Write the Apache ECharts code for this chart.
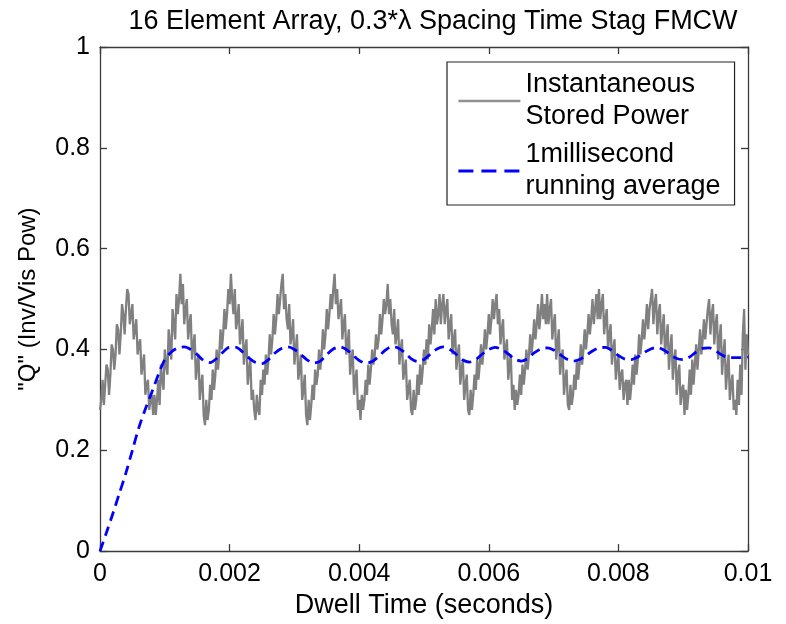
<!DOCTYPE html>
<html>
<head>
<meta charset="utf-8">
<script src="https://cdn.jsdelivr.net/npm/echarts@6/dist/echarts.min.js"></script>
<style>html,body{margin:0;padding:0;background:#fff}#c{width:786px;height:624px}</style>
</head>
<body>
<div id="c"></div>
<script>
const titleText = '16 Element Array, 0.3*\u03bb Spacing Time Stag FMCW';
const xName = 'Dwell Time (seconds)';
const yName = '"Q" (Inv/Vis Pow)';
const seriesNames = ['Instantaneous\nStored Power', '1millisecond\nrunning average'];
const xTicks = [0, 0.002, 0.004, 0.006, 0.008, 0.01];
const yTicks = [0, 0.2, 0.4, 0.6, 0.8, 1];

// Instantaneous stored power, sampled every 0.00002 s (501 samples)
const grayStep = 0.00002;
const grayValues = [
  // start -> first trough
  .28,.30,.34,.29,.33,.37,.36,.31,.35,.41,.40,.36,.39,.45,.44,.39,.43,.49,.47,.43,.48,.52,
  .51,.45,.47,.49,.42,.44,.46,.39,.41,.42,.35,.37,.39,.31,.33,.34,.28,.30,.31,.27,
  // cycle 2
  .31,.27,.30,.34,.29,.37,.34,.32,.40,.37,.35,.44,.41,.38,.48,.45,.42,.51,.47,.50,.55,
  .49,.53,.45,.48,.50,.42,.45,.47,.38,.41,.43,.34,.37,.39,.30,.33,.35,.27,.25,
  // cycle 3
  .30,.26,.28,.33,.30,.36,.32,.35,.40,.36,.39,.44,.40,.43,.48,.44,.47,.52,.49,.55,
  .50,.47,.52,.44,.46,.49,.41,.43,.46,.37,.40,.42,.33,.36,.38,.30,.32,.28,.26,
  // cycle 4
  .31,.28,.27,.34,.31,.36,.33,.39,.35,.38,.43,.39,.42,.47,.43,.46,.51,.47,.50,.53,.55,
  .48,.51,.46,.44,.49,.41,.43,.46,.37,.40,.43,.34,.36,.39,.30,.32,.35,.27,.25,
  // cycle 5
  .30,.26,.29,.33,.30,.36,.33,.35,.40,.36,.39,.44,.40,.43,.48,.44,.47,.51,.48,.52,.55,
  .49,.52,.46,.48,.50,.42,.45,.47,.39,.41,.44,.35,.38,.40,.31,.34,.36,.28,.30,.26,
  // cycle 6
  .31,.28,.30,.34,.31,.37,.33,.36,.40,.37,.39,.43,.40,.42,.47,.43,.46,.50,.47,.49,.53,
  .47,.50,.45,.43,.48,.41,.43,.46,.37,.40,.42,.34,.36,.38,.30,.32,.34,.28,.27,
  // cycle 7
  .32,.28,.30,.35,.31,.37,.33,.36,.40,.37,.42,.38,.45,.41,.44,.48,.43,.50,.45,.47,.51,.45,.49,.51,
  .45,.48,.50,.42,.45,.47,.39,.42,.44,.36,.39,.41,.33,.36,.38,.30,.33,.35,.28,.27,
  // cycle 8
  .32,.28,.31,.35,.32,.38,.34,.37,.41,.37,.40,.44,.40,.43,.47,.43,.46,.50,.46,.49,.51,
  .45,.48,.41,.44,.46,.38,.40,.42,.34,.37,.39,.30,.33,.28,
  // cycle 9
  .32,.29,.31,.35,.31,.37,.33,.36,.40,.36,.39,.43,.39,.42,.46,.42,.45,.49,.44,.47,.51,.46,.49,.45,.51,
  .45,.48,.50,.42,.45,.47,.38,.41,.44,.35,.38,.40,.31,.34,.36,.29,.28,
  // cycle 10
  .33,.29,.31,.35,.32,.38,.34,.37,.41,.37,.40,.44,.40,.43,.47,.43,.46,.50,.45,.48,.51,.46,.52,
  .46,.49,.51,.43,.46,.48,.40,.43,.45,.37,.40,.42,.34,.37,.39,.32,.35,.36,.30,.33,.34,.29,
  // cycle 11
  .34,.30,.33,.37,.33,.39,.35,.38,.43,.39,.42,.46,.42,.45,.49,.44,.48,.50,.52,
  .45,.49,.51,.43,.47,.49,.41,.44,.47,.39,.42,.45,.36,.40,.43,.34,.38,.40,.31,.35,.37,.29,.32,.33,.27,
  // cycle 12
  .32,.28,.31,.36,.31,.38,.33,.37,.41,.36,.40,.44,.39,.42,.46,.42,.45,.48,.50,
  .43,.47,.49,.41,.45,.47,.38,.42,.45,.35,.39,.42,.32,.36,.39,.30,.33,.35,.28,.30,.27,
  // end
  .34,.29,.37,.31,.43,.48,.36,.43,.39
];

// 1 ms running average, sampled every 0.0001 s (101 samples)
const blueStep = 0.0001;
const blueValues = [
  0,0.037,0.075,0.115,0.155,0.200,0.245,0.282,0.315,0.350,0.380,0.395,0.403,
  0.405,0.400,0.390,0.378,0.374,0.382,0.395,0.404,0.404,0.395,0.383,0.374,0.372,0.380,0.393,0.402,
  0.405,0.400,0.390,0.379,0.373,0.377,0.390,0.401,0.405,0.400,0.389,0.378,0.373,0.376,0.386,0.398,
  0.405,0.403,0.394,0.382,0.376,0.380,0.391,0.401,0.405,0.400,0.390,0.379,0.375,0.380,0.391,0.400,
  0.404,0.400,0.391,0.381,0.377,0.382,0.393,0.401,0.403,0.399,0.390,0.381,0.377,0.380,0.388,0.397,
  0.403,0.404,0.398,0.388,0.381,0.380,0.385,0.394,0.401,0.404,0.399,0.390,0.382,0.380,0.385,0.395,
  0.402,0.403,0.397,0.389,0.384,0.384,0.384,0.385
];

const grayData = grayValues.map((v, i) => [+(i * grayStep).toFixed(6), v]);
const blueData = blueValues.map((v, i) => [+(i * blueStep).toFixed(6), v]);

const FONT = 'Liberation Sans, Arial, sans-serif';
const axisColor = '#3a3a3a';

const chart = echarts.init(document.getElementById('c'), null, {renderer: 'canvas'});
const baseX = {
  type: 'value', min: 0, max: 0.01, interval: 0.002,
  axisLine: {show: true, onZero: false, lineStyle: {color: axisColor, width: 1.3}},
  axisTick: {show: true, inside: true, length: 7, lineStyle: {color: axisColor, width: 1.3}},
  splitLine: {show: false}
};
const baseY = {
  type: 'value', min: 0, max: 1, interval: 0.2,
  axisLine: {show: true, onZero: false, lineStyle: {color: axisColor, width: 1.3}},
  axisTick: {show: true, inside: true, length: 7, lineStyle: {color: axisColor, width: 1.3}},
  splitLine: {show: false}
};
const fmt = ticks => v => { const s = ticks.find(t => Math.abs(t - v) < 1e-9); return String(s !== undefined ? s : v); };

chart.setOption({
  animation: false,
  backgroundColor: '#fff',
  title: {
    text: titleText, left: 428, top: 3, textAlign: 'center',
    textStyle: {fontFamily: FONT, fontSize: 27, fontWeight: 'normal', color: '#000'}
  },
  grid: {left: 100, right: 38, top: 47, bottom: 69, containLabel: false},
  legend: {
    orient: 'vertical', left: 447, top: 62, width: 288,
    padding: [7, 14, 2, 10], itemGap: 6,
    backgroundColor: '#fff', borderColor: '#222', borderWidth: 1.2,
    itemWidth: 62, itemHeight: 6,
    itemStyle: {color: 'transparent', borderColor: 'transparent', borderWidth: 0},
    textStyle: {fontFamily: FONT, fontSize: 27, color: '#000', lineHeight: 32},
    data: [
      {name: seriesNames[0], lineStyle: {color: '#909090', width: 2.5}},
      {name: seriesNames[1], lineStyle: {color: '#0000ff', width: 2.8, type: [15, 8]}}
    ]
  },
  xAxis: [
    Object.assign({}, baseX, {
      position: 'bottom',
      name: xName, nameLocation: 'middle', nameGap: 40,
      nameTextStyle: {fontFamily: FONT, fontSize: 27, color: '#000'},
      axisLabel: {show: true, margin: 11, fontFamily: FONT, fontSize: 25, color: '#000', formatter: fmt(xTicks)}
    }),
    Object.assign({}, baseX, {position: 'top', axisLabel: {show: false}})
  ],
  yAxis: [
    Object.assign({}, baseY, {
      position: 'left',
      name: yName, nameLocation: 'middle', nameGap: 60, nameRotate: 90,
      nameTextStyle: {fontFamily: FONT, fontSize: 24, color: '#000'},
      axisLabel: {show: true, margin: 10, fontFamily: FONT, fontSize: 25, color: '#000', formatter: fmt(yTicks)}
    }),
    Object.assign({}, baseY, {position: 'right', axisLabel: {show: false}})
  ],
  series: [
    {
      name: seriesNames[0], type: 'line', data: grayData, xAxisIndex: 0, yAxisIndex: 0,
      symbol: 'none', showSymbol: false, step: 'end',
      lineStyle: {color: '#808080', width: 2.3},
      itemStyle: {color: '#808080'}
    },
    {
      name: seriesNames[1], type: 'line', data: blueData, xAxisIndex: 0, yAxisIndex: 0,
      symbol: 'none', showSymbol: false, smooth: 0.3, z: 5,
      lineStyle: {color: '#0000ff', width: 2.8, type: [10, 6]},
      itemStyle: {color: '#0000ff'}
    }
  ]
});
</script>
</body>
</html>
